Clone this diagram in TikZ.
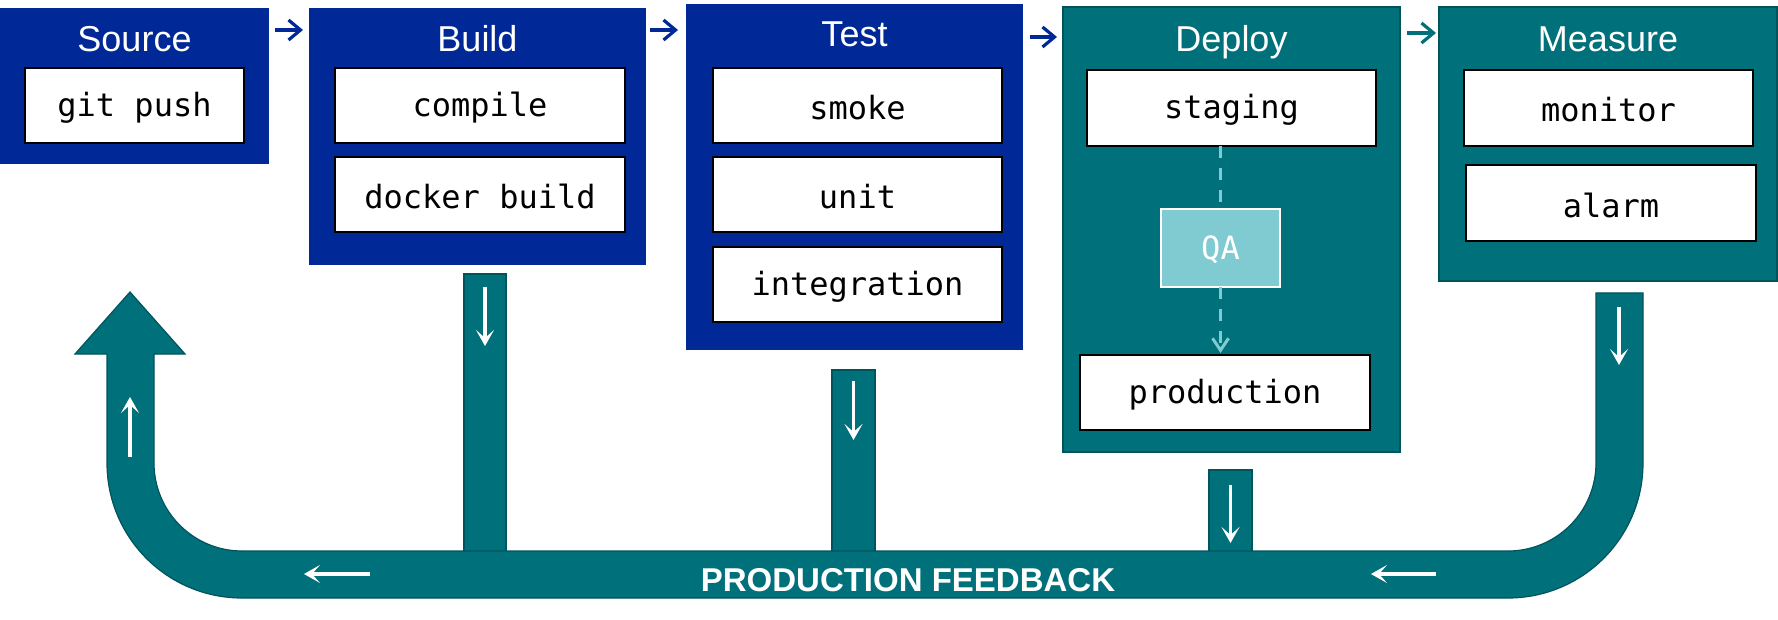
\documentclass[tikz,border=0pt]{standalone}
\usepackage{fontspec}
\setmainfont{Liberation Sans}
\newfontfamily\codefont{DejaVu Sans Mono}
\usetikzlibrary{arrows.meta,calc,fit}
\definecolor{pblue}{RGB}{0,40,150}
\definecolor{pteal}{RGB}{0,112,122}
\definecolor{ptealdark}{RGB}{0,84,92}
\definecolor{pqa}{RGB}{128,203,210}
\begin{document}
\begin{tikzpicture}[x=0.5pt,y=-0.5pt,
  bluebox/.style={fill=pblue, draw=none, inner sep=0pt, outer sep=0pt},
  tealbox/.style={fill=pteal, draw=ptealdark, line width=0.6pt, inner sep=0pt, outer sep=0pt},
  wbox/.style={fill=white, draw=black, line width=1pt, inner sep=0pt, outer sep=0pt},
  code/.style={inner sep=0pt, font=\codefont\fontsize{16}{19}\selectfont},
  qabox/.style={fill=pqa, draw=white, line width=1pt, inner sep=0pt, outer sep=0pt},
  title/.style={text=white, font=\fontsize{18}{21}\selectfont, inner sep=0pt, anchor=base},
  bar/.style={fill=pteal, draw=ptealdark, line width=0.6pt, inner sep=0pt, outer sep=0pt},
  stagearrow/.style={line width=1.6pt, -{Straight Barb[length=6pt,width=10pt]}},
  whitearrow/.style={white, line width=1.6pt, -{Stealth[length=8pt,width=9pt,inset=4pt]}},
  qaline/.style={draw=pqa, line width=1.5pt, dash pattern=on 6pt off 5pt},
  fbshape/.style={fill=pteal, draw=ptealdark, line width=0.6pt}
]
\useasboundingbox (0,0) rectangle (1778,620);

% feedback bars
\node[bar, fit={(464,274)(506,552)}] (bbar) {};
\node[bar, fit={(832,370)(875,552)}] (tbar) {};
\node[bar, fit={(1209,470)(1252,552)}] (dbar) {};

% feedback U-shaped arrow
\draw[fbshape] (1596,293) -- (1643,293) -- (1643,463)
  .. controls (1643,537.6) and (1582.6,598) .. (1508,598) -- (242,598)
  .. controls (167.4,598) and (107,537.6) .. (107,463) -- (107,354) -- (75,354)
  -- (130,292) -- (185,354) -- (154,354) -- (154,463)
  .. controls (154,511.6) and (193.4,551) .. (242,551) -- (1508,551)
  .. controls (1556.6,551) and (1596,511.6) .. (1596,463) -- cycle;
\coordinate (marmA) at (1619,307);
\coordinate (marmB) at (1619,365);
\coordinate (larmA) at (130,457);
\coordinate (larmB) at (130,397);
\coordinate (busLA) at (370,574);
\coordinate (busLB) at (304,574);
\coordinate (busRA) at (1436,574);
\coordinate (busRB) at (1371,574);
\node[text=white, font=\bfseries\fontsize{16.5}{19}\selectfont, inner sep=0pt, anchor=base] (fbtext) at (908,591) {PRODUCTION FEEDBACK};

\draw[whitearrow] ($(bbar.north)+(0,13)$) -- ($(bbar.north)+(0,72)$);
\draw[whitearrow] ($(tbar.north)+(0,11)$) -- ($(tbar.north)+(0,70)$);
\draw[whitearrow] ($(dbar.north)+(0,15)$) -- ($(dbar.north)+(0,73)$);
\draw[whitearrow] (marmA) -- (marmB);
\draw[whitearrow] (larmA) -- (larmB);
\draw[whitearrow] (busLA) -- (busLB);
\draw[whitearrow] (busRA) -- (busRB);

% stages
\node[bluebox, fit={(0,8)(269,164)}] (src) {};
\node[title] (srct) at ($(src.north)+(0,44)$) {Source};
\node[wbox, fit={(25,68)(244,143)}] (gitpush) {};
\node[code] (gitpusht) at ($(gitpush.center)+(0,2)$) {git push};

\node[bluebox, fit={(309,8)(646,265)}] (build) {};
\node[title] (buildt) at ($(build.north)+(0,44)$) {Build};
\node[wbox, fit={(335,68)(625,143)}] (compile) {};
\node[code] (compilet) at ($(compile.center)+(0,2)$) {compile};
\node[wbox, fit={(335,157)(625,232)}] (docker) {};
\node[code] (dockert) at ($(docker.center)+(0,2)$) {docker build};

\node[bluebox, fit={(686,4)(1023,350)}] (test) {};
\node[title] (testt) at ($(test.north)+(0,43)$) {Test};
\node[wbox, fit={(713,68)(1002,143)}] (smoke) {};
\node[code] (smoket) at ($(smoke.center)+(0,2)$) {smoke};
\node[wbox, fit={(713,157)(1002,232)}] (unit) {};
\node[code] (unitt) at ($(unit.center)+(0,2)$) {unit};
\node[wbox, fit={(713,247)(1002,322)}] (integ) {};
\node[code] (integt) at ($(integ.center)+(0,2)$) {integration};

\node[tealbox, fit={(1063,7)(1400,452)}] (deploy) {};
\node[title] (deployt) at ($(deploy.north)+(0,45)$) {Deploy};
\node[wbox, fit={(1087,70)(1376,146)}] (staging) {};
\node[code] (stagingt) at ($(staging.center)+(0,2)$) {staging};
\node[qabox, fit={(1161,209)(1280,287)}] (qa) {};
\node[code, text=white] (qat) at ($(qa.center)+(0,2)$) {QA};
\node[wbox, fit={(1080,355)(1370,430)}] (prod) {};
\node[code] (prodt) at ($(prod.center)+(0,2)$) {production};
\draw[qaline] (qa.north |- staging.south) -- (qa.north);
\draw[qaline, -{Straight Barb[length=6pt,width=8pt]}] (qa.south) -- ($(qa.south |- prod.north)+(0,-2)$);

\node[tealbox, fit={(1439,7)(1777,281)}] (measure) {};
\node[title] (measuret) at ($(measure.north)+(0,45)$) {Measure};
\node[wbox, fit={(1464,70)(1753,146)}] (monitor) {};
\node[code] (monitort) at ($(monitor.center)+(0,2)$) {monitor};
\node[wbox, fit={(1466,165)(1756,241)}] (alarm) {};
\node[code] (alarmt) at ($(alarm.center)+(0,2)$) {alarm};

% stage arrows
\draw[stagearrow, pblue] ($(src.north east)+(6,22)$) -- ($(build.north west)+(-6,22)$);
\draw[stagearrow, pblue] ($(build.north east)+(4,22)$) -- ($(test.north west)+(-8,26)$);
\draw[stagearrow, pblue] ($(test.north east)+(7,33)$) -- ($(deploy.north west)+(-6,30)$);
\draw[stagearrow, pteal] ($(deploy.north east)+(7,26)$) -- ($(measure.north west)+(-3,26)$);
\end{tikzpicture}
\end{document}
